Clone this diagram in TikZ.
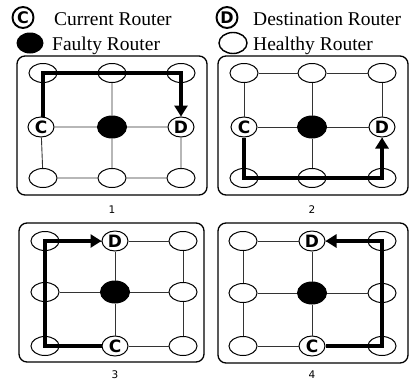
\documentclass[tikz,border=0pt]{standalone}
\usepackage{fontspec}
\setmainfont{Liberation Serif}
\newfontfamily\labfont{DejaVu Sans}
\usetikzlibrary{shapes.geometric,arrows.meta}
\begin{document}
\begin{tikzpicture}[x=1pt,y=-1pt,
  rt/.style={ellipse,draw,line width=1pt,minimum width=28pt,minimum height=19pt,inner sep=0pt,fill=white},
  cd/.style={rt,minimum width=26pt,minimum height=20pt,font=\labfont\bfseries\fontsize{17}{17}\selectfont},
  flt/.style={rt,fill=black,minimum width=29pt,minimum height=22pt},
  gl/.style={black!80,line width=0.9pt},
  route/.style={line width=3.8pt,line join=miter},
  routearrow/.style={route,-{Triangle[length=11pt,width=13pt]}},
  pbox/.style={draw,line width=1.3pt,rounded corners=8pt},
  lgd/.style={anchor=base west,inner sep=0pt,font=\fontsize{19.5}{20}\selectfont},
  lgdcirc/.style={circle,draw,line width=1.9pt,minimum size=21pt,inner sep=0pt,font=\labfont\bfseries\fontsize{16}{16}\selectfont},
  num/.style={font=\labfont\fontsize{10.5}{11}\selectfont}
]
\useasboundingbox (0,0) rectangle (412,381);

% legend
\node[lgdcirc] (lc) at (23,17.5) {C};
\node[lgd] (lct) at (54,25) {Current Router};
\node[lgdcirc] (ld) at (227,17.5) {D};
\node[lgd] (ldt) at (253,25) {Destination Router};
\node[ellipse,fill=black,minimum width=27pt,minimum height=21pt,inner sep=0pt] (lf) at (30,43) {};
\node[lgd] (lft) at (52,50) {Faulty Router};
\node[ellipse,draw,line width=1.4pt,minimum width=28pt,minimum height=21pt,inner sep=0pt] (lh) at (233,43) {};
\node[lgd] (lht) at (253,50) {Healthy Router};

% boxes
\draw[pbox] (17,56) rectangle (207,195);
\draw[pbox] (218,56) rectangle (408,195);
\draw[pbox] (19,223) rectangle (204,362);
\draw[pbox] (218,223) rectangle (408,363);

% panel numbers
\node[num] (l1) at (112,210) {1};
\node[num] (l2) at (312,210) {2};
\node[num] (l3) at (115,375) {3};
\node[num] (l4) at (312,375) {4};

% ---------- panel 1 ----------
\node[rt]  (a11) at (43,73) {};
\node[rt]  (a12) at (112,73) {};
\node[rt]  (a13) at (181,73) {};
\node[cd]  (a21) at (41,127) {C};
\node[flt] (a22) at (112,127) {};
\node[cd]  (a23) at (181,127) {D};
\node[rt]  (a31) at (43,178) {};
\node[rt]  (a32) at (112,178) {};
\node[rt]  (a33) at (181,178) {};
\draw[gl] (a11)--(a12) (a12)--(a13) (a21)--(a22) (a22)--(a23) (a31)--(a32) (a32)--(a33)
          (a11)--(a21) (a21)--(a31) (a12)--(a22) (a22)--(a32) (a13)--(a23) (a23)--(a33);
\draw[routearrow] (a21.north -| a11.center) -- (a11.center) -- (a11.center -| a23.north) -- (a23.north);

% ---------- panel 2 ----------
\node[rt]  (b11) at (244,73) {};
\node[rt]  (b12) at (312,73) {};
\node[rt]  (b13) at (382,73) {};
\node[cd]  (b21) at (244,127) {C};
\node[flt] (b22) at (312,127) {};
\node[cd]  (b23) at (382,127) {D};
\node[rt]  (b31) at (244,178) {};
\node[rt]  (b32) at (312,178) {};
\node[rt]  (b33) at (382,178) {};
\draw[gl] (b11)--(b12) (b12)--(b13) (b21)--(b22) (b22)--(b23) (b31)--(b32) (b32)--(b33)
          (b11)--(b21) (b21)--(b31) (b12)--(b22) (b22)--(b32) (b13)--(b23) (b23)--(b33);
\draw[routearrow] (b21.south) -- (b31.center) -- (b33.center) -- (b23.south);

% ---------- panel 3 ----------
\node[rt]  (c11) at (45,241) {};
\node[cd]  (c12) at (115,241) {D};
\node[rt]  (c13) at (183,241) {};
\node[rt]  (c21) at (45,292) {};
\node[flt] (c22) at (115,292) {};
\node[rt]  (c23) at (183,292) {};
\node[rt]  (c31) at (45,346) {};
\node[cd]  (c32) at (115,346) {C};
\node[rt]  (c33) at (183,346) {};
\draw[gl] (c11)--(c12) (c12)--(c13) (c21)--(c22) (c22)--(c23) (c31)--(c32) (c32)--(c33)
          (c11)--(c21) (c21)--(c31) (c12)--(c22) (c22)--(c32) (c13)--(c23) (c23)--(c33);
\draw[routearrow] (c32.west) -- (c31.center) -- (c11.center) -- (c12.west);

% ---------- panel 4 ----------
\node[rt]  (d11) at (243,241) {};
\node[cd]  (d12) at (312,241) {D};
\node[rt]  (d13) at (382,241) {};
\node[rt]  (d21) at (243,293) {};
\node[flt] (d22) at (312,293) {};
\node[rt]  (d23) at (382,293) {};
\node[rt]  (d31) at (243,346) {};
\node[cd]  (d32) at (312,346) {C};
\node[rt]  (d33) at (382,346) {};
\draw[gl] (d11)--(d12) (d12)--(d13) (d21)--(d22) (d22)--(d23) (d31)--(d32) (d32)--(d33)
          (d11)--(d21) (d21)--(d31) (d12)--(d22) (d22)--(d32) (d13)--(d23) (d23)--(d33);
\draw[routearrow] (d32.east) -- (d33.center) -- (d13.center) -- (d12.east);
\end{tikzpicture}
\end{document}
